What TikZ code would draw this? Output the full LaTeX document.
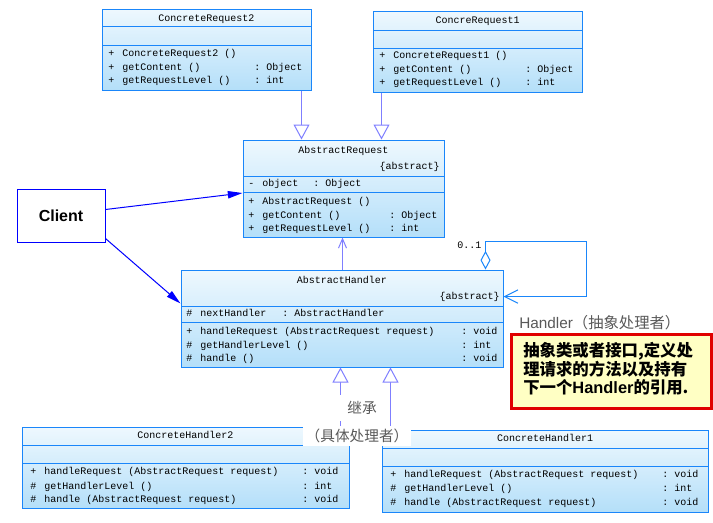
\documentclass[tikz,border=0pt]{standalone}
\usepackage{fontspec}
\setmainfont{Liberation Sans}
\setsansfont{Liberation Sans}
\setmonofont{Liberation Mono}
\newfontfamily\cjk{Noto Sans CJK SC}
\usetikzlibrary{arrows.meta,fit,calc}
\definecolor{bord}{HTML}{1A86FA}
\definecolor{clsTop}{HTML}{EEF8FE}
\definecolor{clsBot}{HTML}{B4DFF9}
\definecolor{conn}{HTML}{7F7FFF}
\definecolor{lblgray}{HTML}{595959}
\definecolor{noteFill}{HTML}{FFFFC4}
\definecolor{noteRed}{HTML}{E00000}
\newcommand\pfx[1]{\makebox[10.5pt][l]{#1}}
\begin{document}
\begin{tikzpicture}[x=0.75pt,y=-0.75pt,
  cls/.style={draw=bord, line width=0.75pt, top color=clsTop, bottom color=clsBot, inner sep=0pt},
  sepl/.style={draw=bord, line width=0.75pt},
  mt/.style={font=\ttfamily\fontsize{7.5}{9}\selectfont, inner sep=0pt, anchor=base west, text=black},
  mtc/.style={mt, anchor=base},
  mtr/.style={mt, anchor=base east},
  inh/.style={draw=conn, line width=0.75pt, -{Triangle[open,length=11.25pt,width=12pt,fill=white]}},
  dep/.style={draw=conn, line width=0.75pt, -{Straight Barb[length=7pt,width=6pt]}},
  cli/.style={draw=blue, line width=0.75pt, -{Triangle[length=11pt,width=5.5pt]}},
  selfa/.style={draw=bord, line width=0.75pt, {Diamond[open,length=14pt,width=7.5pt,fill=white]}-{Straight Barb[length=10pt,width=10pt]}},
  graylbl/.style={text=lblgray, inner sep=0pt, anchor=base west},
  notetxt/.style={font=\cjk\bfseries\fontsize{12.3}{14}\selectfont, inner sep=0pt, anchor=base west, text=black}
]
\useasboundingbox[fill=white] (0,0) rectangle (713,522);

% ConcreteRequest2
\node[cls, fit={(102,9) (311,90)}] (cr2) {};
\draw[sepl] (102,26) -- (311,26) (102,45) -- (311,45);
\node[mtc] (cr2t) at (206.5,21.5) {ConcreteRequest2};
\node[mt] (cr2m1) at (108,56.5) {\pfx{+}ConcreteRequest2 ()};
\node[mt] (cr2m2) at (108,70.5) {\pfx{+}getContent ()};
\node[mt] (cr2r2) at (254,70.5) {: Object};
\node[mt] (cr2m3) at (108,83.5) {\pfx{+}getRequestLevel ()};
\node[mt] (cr2r3) at (254,83.5) {: int};

% ConcreRequest1
\node[cls, fit={(373,11) (582,92)}] (cr1) {};
\draw[sepl] (373,30) -- (582,30) (373,48) -- (582,48);
\node[mtc] (cr1t) at (477.5,23.5) {ConcreRequest1};
\node[mt] (cr1m1) at (379,58.5) {\pfx{+}ConcreteRequest1 ()};
\node[mt] (cr1m2) at (379,72.5) {\pfx{+}getContent ()};
\node[mt] (cr1r2) at (525,72.5) {: Object};
\node[mt] (cr1m3) at (379,85.5) {\pfx{+}getRequestLevel ()};
\node[mt] (cr1r3) at (525,85.5) {: int};

% AbstractRequest
\node[cls, fit={(243,140) (444,237)}] (ar) {};
\draw[sepl] (243,176) -- (444,176) (243,192) -- (444,192);
\node[mtc] (art) at (343.5,153.5) {AbstractRequest};
\node[mtr] (ara) at (440,169.5) {\{abstract\}};
\node[mt] (arf) at (248,186.5) {\pfx{-}object};
\node[mt] (arfr) at (313,186.5) {: Object};
\node[mt] (arm1) at (248,204.5) {\pfx{+}AbstractRequest ()};
\node[mt] (arm2) at (248,218.5) {\pfx{+}getContent ()};
\node[mt] (arr2) at (389,218.5) {: Object};
\node[mt] (arm3) at (248,231.5) {\pfx{+}getRequestLevel ()};
\node[mt] (arr3) at (389,231.5) {: int};

% AbstractHandler
\node[cls, fit={(181,270) (503,367)}] (ah) {};
\draw[sepl] (181,306) -- (503,306) (181,322) -- (503,322);
\node[mtc] (aht) at (342,283.5) {AbstractHandler};
\node[mtr] (aha) at (500,299.5) {\{abstract\}};
\node[mt] (ahf) at (186,316.5) {\pfx{\#}nextHandler};
\node[mt] (ahfr) at (282,316.5) {: AbstractHandler};
\node[mt] (ahm1) at (186,334.5) {\pfx{+}handleRequest (AbstractRequest request)};
\node[mt] (ahr1) at (461,334.5) {: void};
\node[mt] (ahm2) at (186,348.5) {\pfx{\#}getHandlerLevel ()};
\node[mt] (ahr2) at (461,348.5) {: int};
\node[mt] (ahm3) at (186,361.5) {\pfx{\#}handle ()};
\node[mt] (ahr3) at (461,361.5) {: void};

% ConcreteHandler2
\node[cls, fit={(22,427) (349,508)}] (ch2) {};
\draw[sepl] (22,445) -- (349,445) (22,463) -- (349,463);
\node[mtc] (ch2t) at (185.5,438.5) {ConcreteHandler2};
\node[mt] (ch2m1) at (30,474.5) {\pfx{+}handleRequest (AbstractRequest request)};
\node[mt] (ch2r1) at (302,474.5) {: void};
\node[mt] (ch2m2) at (30,489.5) {\pfx{\#}getHandlerLevel ()};
\node[mt] (ch2r2) at (302,489.5) {: int};
\node[mt] (ch2m3) at (30,502.5) {\pfx{\#}handle (AbstractRequest request)};
\node[mt] (ch2r3) at (302,502.5) {: void};

% ConcreteHandler1
\node[cls, fit={(382,430) (708,512)}] (ch1) {};
\draw[sepl] (382,448) -- (708,448) (382,466) -- (708,466);
\node[mtc] (ch1t) at (545,441.5) {ConcreteHandler1};
\node[mt] (ch1m1) at (390,477.5) {\pfx{+}handleRequest (AbstractRequest request)};
\node[mt] (ch1r1) at (662,477.5) {: void};
\node[mt] (ch1m2) at (390,491.5) {\pfx{\#}getHandlerLevel ()};
\node[mt] (ch1r2) at (662,491.5) {: int};
\node[mt] (ch1m3) at (390,505.5) {\pfx{\#}handle (AbstractRequest request)};
\node[mt] (ch1r3) at (662,505.5) {: void};

% Client
\node[draw=blue, line width=0.75pt, fill=white, inner sep=0pt, fit={(17,189) (105,242)}] (client) {};
\node[font=\sffamily\bfseries\fontsize{12}{14}\selectfont, inner sep=0pt] (clientt) at (client.center) {Client};

% connector end points
\coordinate (pcr2) at ($(cr2.south east)+(-10,0)$);
\coordinate (pcr1) at ($(cr1.south west)+(9,0)$);
\coordinate (pah) at ($(ah.north west)+(162,0)$);
\coordinate (pch2) at ($(ch2.north east)+(-9,0)$);
\coordinate (pch1) at ($(ch1.north west)+(9,0)$);
\coordinate (cl1) at ($(client.east)+(0,-6)$);
\coordinate (ar1) at ($(ar.west)+(0,4.5)$);
\coordinate (cl2) at ($(client.south east)+(0,-4)$);
\coordinate (ah1) at ($(ah.north west)+(0,34)$);
\coordinate (ahtop) at ($(ah.north west)+(305,0)$);
\coordinate (ahright) at ($(ah.north east)+(0,27)$);

% connectors
\draw[inh] (pcr2) -- (pcr2 |- ar.north);
\draw[inh] (pcr1) -- (pcr1 |- ar.north);
\draw[dep] (pah) -- (pah |- ar.south);
\draw[cli] (cl1) -- (ar1);
\draw[cli] (cl2) -- (ah1);
\draw[selfa] (ahtop) -- ++(0,-28) -- ++(101,0) |- (ahright);
\draw[inh] (pch2) -- (pch2 |- ah.south);
\draw[inh] (pch1) -- (pch1 |- ah.south);

% labels
\node[mt] (mult) at (457,248.5) {0..1};
\node[graylbl] (hlbl) at (519,328) {\fontsize{11.5}{13}\selectfont Handler\cjk（抽象处理者）};
\node[fill=white, inner sep=0pt, minimum width=40.5pt, minimum height=19pt, anchor=center] (jcbg) at (362,408) {};
\node[text=lblgray, inner sep=0pt] (jc) at (362,408) {\cjk\fontsize{11}{13}\selectfont 继承};
\node[fill=white, inner xsep=2pt, inner ysep=2pt, text=lblgray, font=\cjk\fontsize{11}{13}\selectfont] (jt) at (357,436) {（具体处理者）};

% note
\node[draw=noteRed, line width=2.25pt, fill=noteFill, inner sep=0pt, fit={(511,334) (711,408)}] (note) {};
\node[notetxt] (n1) at (523,356) {抽象类或者接口,定义处};
\node[notetxt] (n2) at (523,375) {理请求的方法以及持有};
\node[notetxt] (n3) at (523,393.5) {下一个{\sffamily\bfseries Handler}的引用.};
\end{tikzpicture}
\end{document}
